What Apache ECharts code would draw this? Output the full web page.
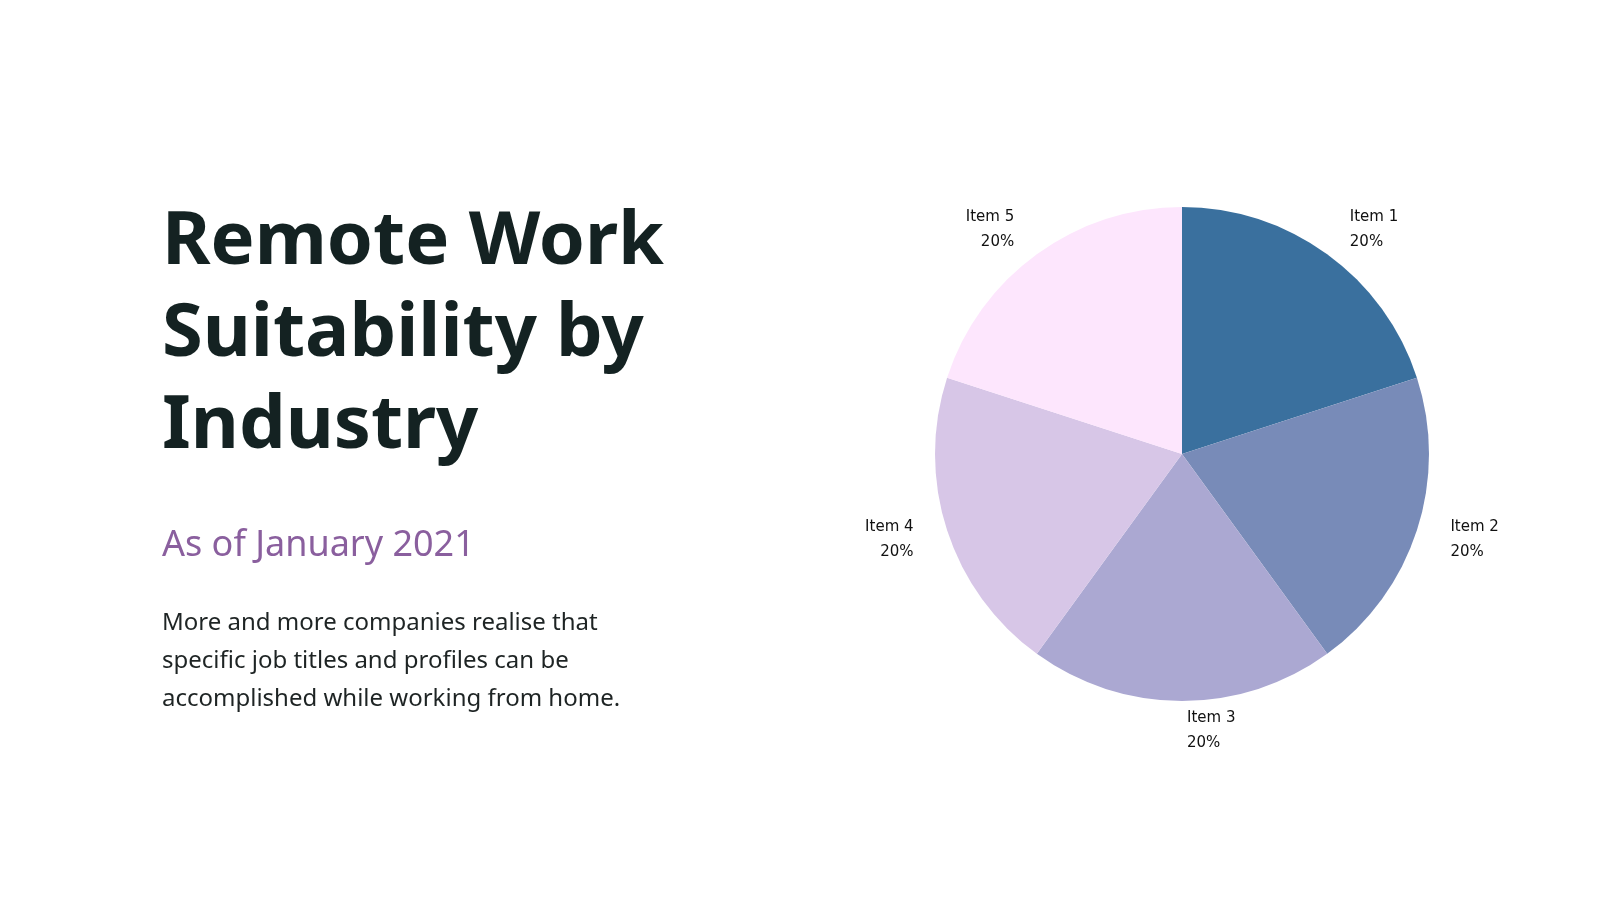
<!DOCTYPE html>
<html>
<head>
<meta charset="utf-8">
<script src="https://cdn.jsdelivr.net/npm/echarts@6/dist/echarts.min.js"></script>
<style>
  html, body { margin:0; padding:0; background:#fff; }
  #main { position:absolute; left:0; top:0; width:1600px; height:900px; }
  .txt { position:absolute; left:162px; font-family:"Noto Sans", "DejaVu Sans", sans-serif; }
  h1 { top:190px; margin:0; font-size:74px; line-height:92px; font-weight:700; color:#142222; }
  .sub { top:518px; font-size:36px; color:#8a5f9e; }
  .body { top:602px; font-size:24px; line-height:38px; color:#1e2424; }
</style>
</head>
<body>
<div id="main"></div>
<h1 class="txt">Remote Work<br>Suitability by<br>Industry</h1>
<div class="txt sub">As of January 2021</div>
<div class="txt body">More and more companies realise that<br>specific job titles and profiles can be<br>accomplished while working from home.</div>
<script>
// 数据
var categories = ['Item 1', 'Item 2', 'Item 3', 'Item 4', 'Item 5'];
var values = [20, 20, 20, 20, 20];
var colors = ['#3a709e', '#788bb8', '#aba8d2', '#d7c6e7', '#fde6fd'];

var myChart = echarts.init(document.getElementById('main'));
var option = {
    animation: false,
    series: [{
        type: 'pie',
        center: [1182, 454],
        radius: 247,
        startAngle: 90,
        data: categories.map(function (c, i) {
            return { name: c, value: values[i], itemStyle: { color: colors[i] } };
        }),
        label: {
            show: true,
            position: 'outside',
            formatter: '{b}\n{d}%',
            fontFamily: 'DejaVu Sans',
            fontSize: 15,
            lineHeight: 25,
            color: '#111',
            align: 'center'
        },
        labelLine: { show: false, length: 30, length2: 0 }
    }]
};
myChart.setOption(option);
</script>
</body>
</html>
